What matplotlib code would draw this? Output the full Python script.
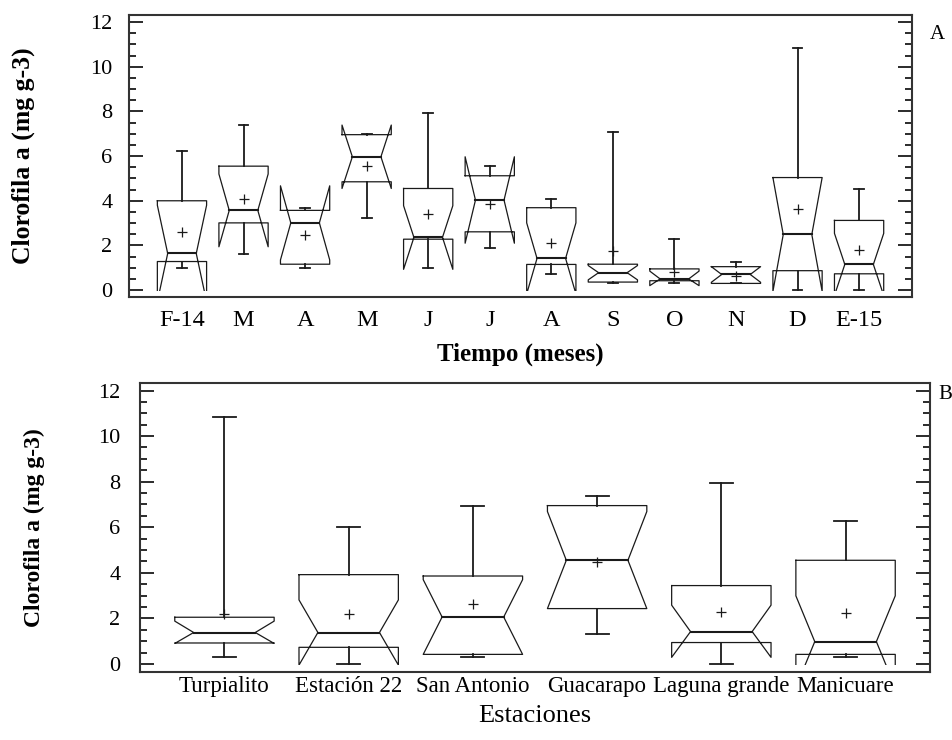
import numpy as np
import matplotlib.pyplot as plt
from matplotlib.patches import Rectangle
from matplotlib.ticker import MultipleLocator

plt.rcParams['font.family'] = ['Liberation Serif', 'DejaVu Serif']

# meses (panel A)
meses = ['F-14', 'M', 'A', 'M', 'J', 'J', 'A', 'S', 'O', 'N', 'D', 'E-15']
a_min = [1.0, 1.6, 1.01, 3.25, 1.0, 1.87, 0.73, 0.3, 0.3, 0.3, 0.0, 0.0]
a_q1 = [1.28, 3.01, 1.16, 4.85, 2.28, 2.61, 1.15, 0.36, 0.42, 0.3, 0.87, 0.73]
a_med = [1.64, 3.57, 3.01, 5.97, 2.36, 4.03, 1.42, 0.78, 0.5, 0.7, 2.49, 1.15]
a_q3 = [4.0, 5.55, 3.57, 6.96, 4.55, 5.12, 3.69, 1.16, 0.95, 1.05, 5.04, 3.12]
a_max = [6.25, 7.39, 3.69, 6.98, 7.94, 5.55, 4.1, 7.07, 2.27, 1.27, 10.85, 4.54]
a_nlo = [-0.52, 1.94, 1.35, 4.55, 0.93, 2.1, -0.17, 0.46, 0.2, 0.35, -0.06, -0.24]
a_nhi = [3.8, 5.2, 4.67, 7.39, 3.78, 5.97, 3.01, 1.1, 0.85, 1.05, 5.04, 2.54]
a_mean = [2.6, 4.1, 2.46, 5.57, 3.43, 3.85, 2.09, 1.76, 0.8, 0.65, 3.61, 1.79]

# estaciones (panel B)
estaciones = ['Turpialito', 'Estación 22', 'San Antonio', 'Guacarapo',
              'Laguna grande', 'Manicuare']
b_min = [0.32, 0.0, 0.32, 1.3, 0.0, 0.32]
b_q1 = [0.92, 0.73, 0.42, 2.43, 0.94, 0.42]
b_med = [1.38, 1.38, 2.06, 4.55, 1.42, 0.98]
b_q3 = [2.05, 3.92, 3.86, 6.95, 3.44, 4.55]
b_max = [10.86, 5.99, 6.95, 7.38, 7.96, 6.28]
b_nlo = [0.9, -0.05, 0.42, 2.43, 0.29, -1.03]
b_nhi = [1.88, 2.81, 3.7, 6.69, 2.58, 2.99]
b_mean = [2.18, 2.18, 2.62, 4.49, 2.27, 2.22]

col = '#1a1a1a'


def caja(ax, x, lo, q1, med, q3, hi, nlo, nhi, mean, w=0.8, ind=0.21, cap=0.2):
    # recorte en y = 0: las muescas no bajan de cero
    clip = Rectangle((-5, -0.03), 40, 30, transform=ax.transData)
    L, R = x - w / 2, x + w / 2
    i = w * ind
    xs = [L, L, L + i, L, L, R, R, R - i, R, R, L]
    ys = [q3, nhi, med, nlo, q1, q1, nlo, med, nhi, q3, q3]
    arts = ax.plot(xs, ys, color=col, lw=0.9)
    arts += ax.plot([L + i, R - i], [med, med], color=col, lw=1.5)
    # bigotes
    c = w * cap / 2
    arts += ax.plot([x, x], [q3, hi], color=col, lw=1.3)
    arts += ax.plot([x - c, x + c], [hi, hi], color=col, lw=1.3)
    arts += ax.plot([x, x], [q1, lo], color=col, lw=1.3)
    arts += ax.plot([x - c, x + c], [lo, lo], color=col, lw=1.3)
    arts += ax.plot([x], [mean], marker='+', ms=7, mew=0.9, color=col)
    for a in arts:
        a.set_clip_path(clip)


def ejes(ax, nombres, xlim, pad_y):
    ax.set_xlim(*xlim)
    ax.set_xticks(np.arange(1, len(nombres) + 1))
    ax.set_xticklabels(nombres)
    ax.yaxis.set_major_locator(MultipleLocator(2))
    ax.yaxis.set_minor_locator(MultipleLocator(0.5))
    ax.tick_params(axis='y', which='both', direction='in', left=True, right=True,
                   labelsize=16, pad=pad_y, color=col, width=1.3)
    ax.tick_params(axis='y', which='major', length=10)
    ax.tick_params(axis='y', which='minor', length=5)
    ax.tick_params(axis='x', length=0)
    for s in ax.spines.values():
        s.set_linewidth(1.5)
        s.set_color('#333333')


fig = plt.figure(figsize=(9.53, 7.40), dpi=100)
axA = fig.add_axes([0.1354, 0.5986, 0.8216, 0.3815])
axB = fig.add_axes([0.1469, 0.0923, 0.829, 0.3898])

for k in range(len(meses)):
    caja(axA, k + 1, a_min[k], a_q1[k], a_med[k], a_q3[k], a_max[k],
         a_nlo[k], a_nhi[k], a_mean[k], cap=0.2)
axA.set_ylim(-0.31, 12.33)
ejes(axA, meses, (0.14, 12.86), 12)
axA.tick_params(axis='x', labelsize=17.5, pad=9)
axA.set_ylabel('Clorofila a (mg g-3)', fontsize=18.5, fontweight='bold')
axA.yaxis.set_label_coords(-0.12, 0.5)
axA.set_xlabel('Tiempo (meses)', fontsize=18, fontweight='bold', labelpad=9)
axA.text(1.032, 0.93, 'A', transform=axA.transAxes, fontsize=15,
         ha='center', va='center')

for k in range(len(estaciones)):
    caja(axB, k + 1, b_min[k], b_q1[k], b_med[k], b_q3[k], b_max[k],
         b_nlo[k], b_nhi[k], b_mean[k], cap=0.23, ind=0.19)
axB.set_ylim(-0.34, 12.32)
ejes(axB, estaciones, (0.32, 6.68), 14)
axB.tick_params(axis='x', labelsize=16.5, pad=3)
axB.set_ylabel('Clorofila a (mg g-3)', fontsize=17, fontweight='bold')
axB.yaxis.set_label_coords(-0.12, 0.5)
fig.text(535 / 953, 1 - 716 / 740, 'Estaciones', fontsize=19,
         ha='center', va='center')
axB.text(1.019, 0.96, 'B', transform=axB.transAxes, fontsize=15,
         ha='center', va='center')

fig.savefig('out.png', dpi=100)
